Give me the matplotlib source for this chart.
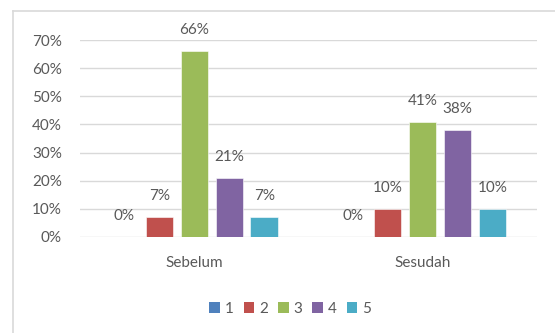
import numpy as np
import matplotlib
matplotlib.use("Agg")
import matplotlib.pyplot as plt
from matplotlib.lines import Line2D
from matplotlib.patches import Patch

categories = ["Sebelum", "Sesudah"]
series_names = ["1", "2", "3", "4", "5"]
values = {
    "1": [0, 0],
    "2": [7, 10],
    "3": [66, 41],
    "4": [21, 38],
    "5": [7, 10],
}
y_ticks = [0, 10, 20, 30, 40, 50, 60, 70]

COLORS = ["#4F81BD", "#C0504D", "#9BBB59", "#8064A2", "#4BACC6"]
TEXT = "#595959"
GRID = "#D9D9D9"
FS = 11

plt.rcParams["font.family"] = ["Lato", "DejaVu Sans"]

fig = plt.figure(figsize=(5.55, 3.33), dpi=100)
fig.patch.set_facecolor("white")
ax = fig.add_axes([80 / 555, 1 - 237 / 333, 457 / 555, 197 / 333])

x = np.arange(len(categories))
step = 0.153
width = 0.12
for i, name in enumerate(series_names):
    offs = (i - 2) * step
    vals = np.array(values[name]) / 100
    bars = ax.bar(x + offs, vals, width, color=COLORS[i], zorder=3,
                  edgecolor="white", linewidth=0.4, label=name)
    for b, v in zip(bars, values[name]):
        ax.annotate(f"{v}%", (b.get_x() + b.get_width() / 2, b.get_height()),
                    xytext=(0, 15), textcoords="offset points",
                    ha="center", va="center", fontsize=FS, color=TEXT)

ax.set_xlim(-0.5, 1.5)
ax.set_ylim(0, 0.7)
ax.set_yticks([t / 100 for t in y_ticks])
ax.set_yticklabels([f"{t}%" for t in y_ticks], fontsize=FS, color=TEXT)
ax.set_xticks(x)
ax.set_xticklabels(categories, fontsize=FS, color=TEXT)
ax.tick_params(axis="both", length=0)
ax.tick_params(axis="y", pad=13)
ax.tick_params(axis="x", pad=14)
ax.yaxis.grid(True, color=GRID, linewidth=1.0, zorder=0)
for s in ax.spines.values():
    s.set_visible(False)
ax.set_facecolor("none")

# outer chart border (left and top edges)
fig.add_artist(Line2D([13 / 555, 13 / 555], [0, 1 - 11 / 333],
                      transform=fig.transFigure, color=GRID, linewidth=1.2))
fig.add_artist(Line2D([13 / 555, 1], [1 - 11 / 333, 1 - 11 / 333],
                      transform=fig.transFigure, color=GRID, linewidth=1.2))

handles = [Patch(facecolor=c, edgecolor="none") for c in COLORS]
leg = fig.legend(handles, series_names, loc="center", ncol=5,
                 bbox_to_anchor=(290 / 555, 1 - 309 / 333), frameon=False,
                 handlelength=0.7, handleheight=0.7, handletextpad=0.3,
                 columnspacing=0.67, fontsize=FS)
for t in leg.get_texts():
    t.set_color(TEXT)

fig.savefig("out.png", dpi=100)
